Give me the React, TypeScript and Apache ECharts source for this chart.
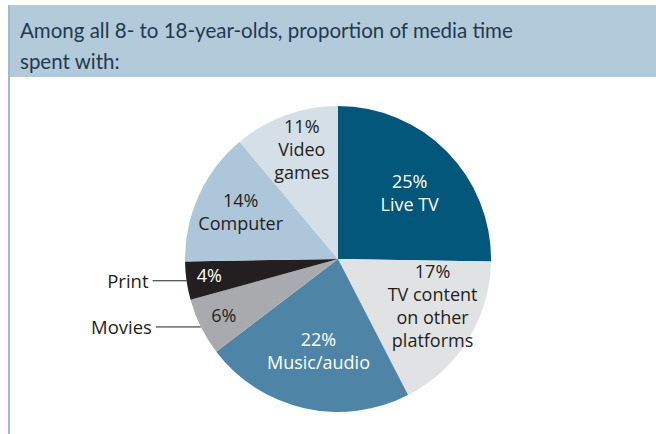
import React, { useEffect, useRef } from "react";
import * as echarts from "echarts";

const titleText = "Among all 8- to 18-year-olds, proportion of media time\nspent with:";
const categories = ["Live TV", "TV content on other platforms", "Music/audio", "Movies", "Print", "Computer", "Video games"];
const values = [25, 17, 22, 6, 4, 14, 11];
const insideNames = ["Live TV", "TV content\non other\nplatforms", "Music/audio", "", "", "Computer", "Video\ngames"];
const outsideNames = ["", "", "", "Movies", "Print", "", ""];

const sliceColors = ["#03577b", "#e1e2e4", "#4e85a7", "#a9aaad", "#231f20", "#adc6da", "#d4dfe8"];
const labelColors = ["#ffffff", "#231f20", "#ffffff", "#231f20", "#ffffff", "#231f20", "#231f20"];
const labelShift = [[15, -11], [27, 5], [-2, 14], [-43, 21], [-50, 5], [-25, -14], [-9, -35]];
const outsideLineLen = [0, 0, 0, 45, 34, 0, 0];

export default function App() {
  const ref = useRef<HTMLDivElement>(null);
  useEffect(() => {
    const chart = echarts.init(ref.current!, undefined, { renderer: "svg" });
    const font = "'Open Sans', 'Noto Sans', sans-serif";
    chart.setOption({
      animation: false,
      backgroundColor: "#ffffff",
      title: {
        text: titleText,
        left: 15,
        top: 9,
        textStyle: {
          fontFamily: "Lato, 'Open Sans', sans-serif",
          fontSize: 20.5,
          fontWeight: "normal",
          color: "#1f3a4f",
          lineHeight: 31,
        },
      },
      graphic: [
        {
          type: "rect",
          z: -10,
          shape: { x: 8, y: 5, width: 648, height: 72 },
          style: { fill: "#b3cadb" },
        },
        {
          type: "line",
          z: -10,
          shape: { x1: 9, y1: 5, x2: 9, y2: 434 },
          style: { stroke: "#9fbbcf", lineWidth: 2 },
        },
      ],
      series: [
        {
          type: "pie",
          center: [338, 259],
          radius: [0, 153],
          startAngle: 90,
          clockwise: true,
          silent: true,
          avoidLabelOverlap: false,
          itemStyle: { borderWidth: 0 },
          label: {
            show: true,
            position: "inside",
            fontFamily: font,
            fontSize: 18,
            lineHeight: 23,
            align: "center",
          },
          labelLine: { show: false },
          labelLayout: (p: any) => ({ dx: labelShift[p.dataIndex][0], dy: labelShift[p.dataIndex][1] }),
          data: categories.map((c, i) => ({
            name: c,
            value: values[i],
            itemStyle: { color: sliceColors[i] },
            label: {
              color: labelColors[i],
              formatter: insideNames[i] ? `${values[i]}%\n${insideNames[i]}` : `${values[i]}%`,
            },
          })),
        },
        {
          type: "pie",
          center: [338, 259],
          radius: [0, 153],
          startAngle: 90,
          clockwise: true,
          silent: true,
          avoidLabelOverlap: false,
          itemStyle: { color: "rgba(0,0,0,0)", borderWidth: 0 },
          label: { show: false },
          labelLine: { show: false },
          data: categories.map((c, i) => ({
            name: c,
            value: values[i],
            label: outsideNames[i]
              ? {
                  show: true,
                  position: "outside",
                  formatter: outsideNames[i],
                  fontFamily: font,
                  fontSize: 18.5,
                  color: "#231f20",
                  distanceToLabelLine: 4,
                }
              : { show: false },
            labelLine: outsideNames[i]
              ? { show: true, length: 0, length2: outsideLineLen[i], lineStyle: { color: "#231f20", width: 1 } }
              : { show: false },
          })),
        },
      ],
    });
    return () => chart.dispose();
  }, []);
  return <div ref={ref} style={{ position: "fixed", left: 0, top: 0, width: 656, height: 434 }} />;
}
